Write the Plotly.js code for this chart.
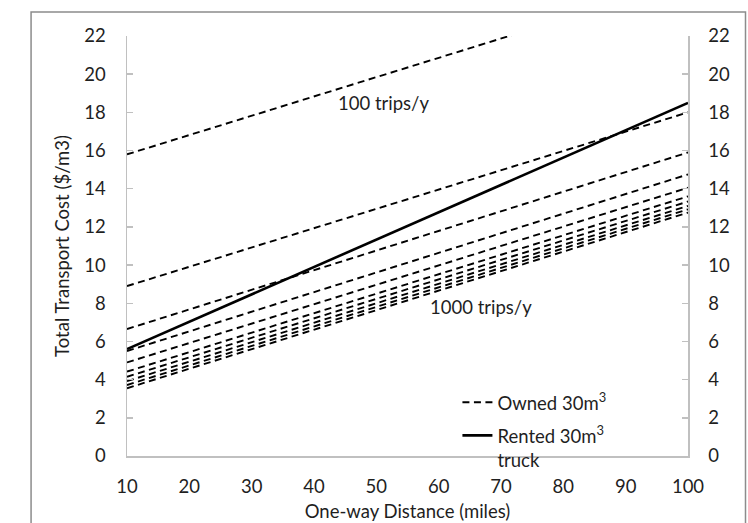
<!DOCTYPE html>
<html>
<head>
<meta charset="utf-8">
<script src="https://cdn.plot.ly/plotly-3.0.1.min.js"></script>
<style>
  html, body { margin: 0; padding: 0; background: #fff; }
  #chart { width: 748px; height: 523px; }
</style>
</head>
<body>
<div id="chart"></div>
<script>
// One-way distance (miles) at the two ends of each straight line
const distance = [10, 100];

// Owned 30 m3 truck: total cost ($/m3) for 100, 200, ... 1000 trips/y
const tripsPerYear = [100, 200, 300, 400, 500, 600, 700, 800, 900, 1000];
const ownedAt10  = [15.8, 8.9, 6.65, 5.5, 4.9, 4.42, 4.15, 3.92, 3.72, 3.55];
const ownedAt100 = [24.9, 18.0, 15.9, 14.75, 14.05, 13.6, 13.33, 13.1, 12.92, 12.75];

// Rented 30 m3 truck
const rentedCost = [5.6, 18.5];

const xTicks = [10, 20, 30, 40, 50, 60, 70, 80, 90, 100];
const yTicks = [0, 2, 4, 6, 8, 10, 12, 14, 16, 18, 20, 22];

const ownedName = 'Owned 30m<sup>3</sup>';
const rentedName = 'Rented 30m<sup>3</sup><br>truck';
const label100 = '100 trips/y';
const label1000 = '1000 trips/y';

const FONT = 'Lato, "Open Sans", sans-serif';
const FS = 18.5;
const TXT = '#1f1f1f';
const AX = '#c0c0c0';

const traces = [];
for (let i = 0; i < tripsPerYear.length; i++) {
  traces.push({
    x: distance,
    y: [ownedAt10[i], ownedAt100[i]],
    type: 'scatter',
    mode: 'lines',
    name: ownedName,
    legendgroup: 'owned',
    showlegend: i === 0,
    legendrank: 1,
    line: { color: '#000', width: 1.9, dash: '7px,4.5px' },
    hoverinfo: 'skip'
  });
}
traces.push({
  x: distance,
  y: rentedCost,
  type: 'scatter',
  mode: 'lines',
  name: rentedName,
  legendgroup: 'rented',
  legendrank: 2,
  line: { color: '#000', width: 2.6 },
  hoverinfo: 'skip'
});
// same series referenced on the right-hand axis so that it is drawn
traces.push({
  x: distance,
  y: rentedCost,
  type: 'scatter',
  mode: 'lines',
  yaxis: 'y2',
  showlegend: false,
  line: { color: 'rgba(0,0,0,0)', width: 0 },
  hoverinfo: 'skip'
});

const yCommon = {
  range: [0, 22],
  tickvals: yTicks,
  ticktext: yTicks.map(String),
  showgrid: false,
  zeroline: false,
  showline: true,
  linecolor: AX,
  linewidth: 1.5,
  ticks: 'inside',
  ticklen: 6,
  tickwidth: 1.5,
  tickcolor: AX,
  tickfont: { family: FONT, size: FS, color: TXT },
  fixedrange: true
};

const layout = {
  width: 748,
  height: 523,
  margin: { l: 127, r: 60, t: 36, b: 67 },
  paper_bgcolor: '#fff',
  plot_bgcolor: '#fff',
  font: { family: FONT, size: FS, color: TXT },
  showlegend: true,
  legend: {
    x: 0.589, xanchor: 'left',
    y: 0.172, yanchor: 'top',
    bgcolor: 'rgba(0,0,0,0)',
    font: { family: FONT, size: FS, color: TXT },
    valign: 'top',
    traceorder: 'grouped',
    tracegroupgap: 6
  },
  xaxis: {
    range: [10, 100],
    tickvals: xTicks,
    ticktext: xTicks.map(String),
    showgrid: false,
    zeroline: false,
    showline: true,
    linecolor: AX,
    linewidth: 1.5,
    ticks: '',
    ticklabelstandoff: 13,
    tickfont: { family: FONT, size: FS, color: TXT },
    title: { text: 'One-way Distance (miles)', font: { family: FONT, size: FS, color: TXT }, standoff: 9 },
    fixedrange: true
  },
  yaxis: Object.assign({}, yCommon, {
    side: 'left',
    ticklabelstandoff: 16,
    title: { text: 'Total Transport Cost ($/m3)', font: { family: FONT, size: FS, color: TXT }, standoff: 10 }
  }),
  yaxis2: Object.assign({}, yCommon, {
    side: 'right',
    overlaying: 'y',
    ticklabelstandoff: 15
  }),
  annotations: [
    { x: 51.2, y: 18.5, xref: 'x', yref: 'y', text: label100, showarrow: false,
      font: { family: FONT, size: FS, color: TXT } },
    { x: 66.8, y: 7.8, xref: 'x', yref: 'y', text: label1000, showarrow: false,
      font: { family: FONT, size: FS, color: TXT } }
  ],
  shapes: [
    { type: 'rect', xref: 'paper', yref: 'paper',
      x0: -0.171, x1: 1.1025, y0: -0.2, y1: 1.057,
      line: { color: '#8c8c8c', width: 1.5 }, fillcolor: 'rgba(0,0,0,0)', layer: 'below' }
  ]
};

Plotly.newPlot('chart', traces, layout, { staticPlot: true, displayModeBar: false });
</script>
</body>
</html>
